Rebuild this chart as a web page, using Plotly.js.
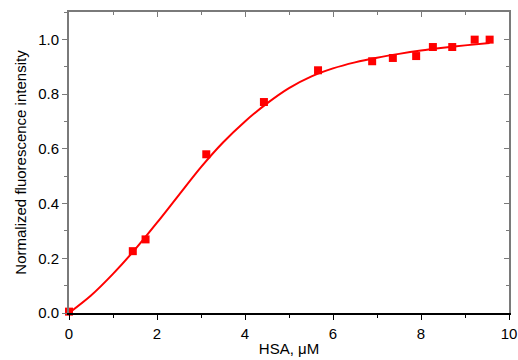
<!DOCTYPE html>
<html>
<head>
<meta charset="utf-8">
<script src="https://cdn.plot.ly/plotly-3.0.1.min.js"></script>
<style>html,body{margin:0;padding:0;background:#fff;}#chart{width:518px;height:360px;}</style>
</head>
<body>
<div id="chart"></div>
<script>
// Measured data
var dataX = [0, 1.45, 1.74, 3.12, 4.43, 5.66, 6.89, 7.36, 7.89, 8.27, 8.71, 9.22, 9.56];
var dataY = [0.005, 0.226, 0.269, 0.580, 0.771, 0.887, 0.920, 0.932, 0.939, 0.972, 0.972, 0.999, 0.999];
// Fitted curve
var fitX = [0, 0.5, 1.0, 1.5, 2.0, 2.5, 3.0, 3.5, 4.0, 4.5, 5.0, 5.5, 6.0, 6.5, 7.0, 7.5, 8.0, 8.5, 9.0, 9.56];
var fitY = [0, 0.064, 0.143, 0.232, 0.330, 0.432, 0.533, 0.623, 0.700, 0.766, 0.822, 0.864, 0.894, 0.916, 0.933, 0.947, 0.959, 0.969, 0.978, 0.987];
var xTitle = 'HSA, \u03bcM';
var yTitle = 'Normalized fluorescence intensity';

var red = '#ff0000';
var gray = '#7a7a7a';
var traces = [
  {x: fitX, y: fitY, type: 'scatter', mode: 'lines', line: {color: red, width: 2, shape: 'spline', smoothing: 0.8}, hoverinfo: 'skip'},
  {x: dataX, y: dataY, type: 'scatter', mode: 'markers', marker: {symbol: 'square', size: 8, color: red}, cliponaxis: false}
];
var font = {family: 'Liberation Sans, Arial, sans-serif', size: 15, color: '#000'};
var layout = {
  width: 518, height: 360,
  margin: {l: 69, r: 9, t: 12, b: 47},
  paper_bgcolor: '#fff', plot_bgcolor: '#fff',
  showlegend: false,
  font: font,
  xaxis: {
    range: [0, 10], dtick: 2, tick0: 0, showgrid: false, zeroline: false,
    showline: true, linecolor: '#000', linewidth: 1.5,
    ticks: 'outside', ticklen: 5, tickcolor: '#000', tickwidth: 1,
    minor: {dtick: 1, ticks: 'outside', ticklen: 3, tickcolor: '#000', showgrid: false},
    tickfont: {size: 15}, ticklabelstandoff: 1,
    title: {text: xTitle, font: {size: 15}, standoff: 3}
  },
  yaxis: {
    range: [0, 1.1], dtick: 0.2, tick0: 0, tickformat: '.1f', showgrid: false, zeroline: false,
    showline: true, linecolor: gray, linewidth: 2,
    ticks: 'outside', ticklen: 5, tickcolor: gray, tickwidth: 1,
    minor: {dtick: 0.1, ticks: 'outside', ticklen: 3, tickcolor: gray, showgrid: false},
    tickfont: {size: 15},
    title: {text: yTitle, font: {size: 15}, standoff: 8}
  },
  xaxis2: {
    overlaying: 'x', side: 'top', anchor: 'y', range: [0, 10], dtick: 2, showgrid: false, zeroline: false,
    showline: true, linecolor: gray, linewidth: 2, showticklabels: false,
    ticks: 'inside', ticklen: 5, tickcolor: gray,
    minor: {dtick: 1, ticks: 'inside', ticklen: 3, tickcolor: gray, showgrid: false}
  },
  yaxis2: {
    overlaying: 'y', side: 'right', anchor: 'x', range: [0, 1.1], dtick: 0.2, showgrid: false, zeroline: false,
    showline: true, linecolor: gray, linewidth: 2, showticklabels: false,
    ticks: 'inside', ticklen: 5, tickcolor: gray,
    minor: {dtick: 0.1, ticks: 'inside', ticklen: 3, tickcolor: gray, showgrid: false}
  }
};
// invisible trace to activate the mirrored x2/y2 frame axes
traces.push({x: [0], y: [0], xaxis: 'x2', yaxis: 'y2', mode: 'markers', marker: {opacity: 0}, hoverinfo: 'skip', showlegend: false});
Plotly.newPlot('chart', traces, layout, {displayModeBar: false, staticPlot: true});
</script>
</body>
</html>
